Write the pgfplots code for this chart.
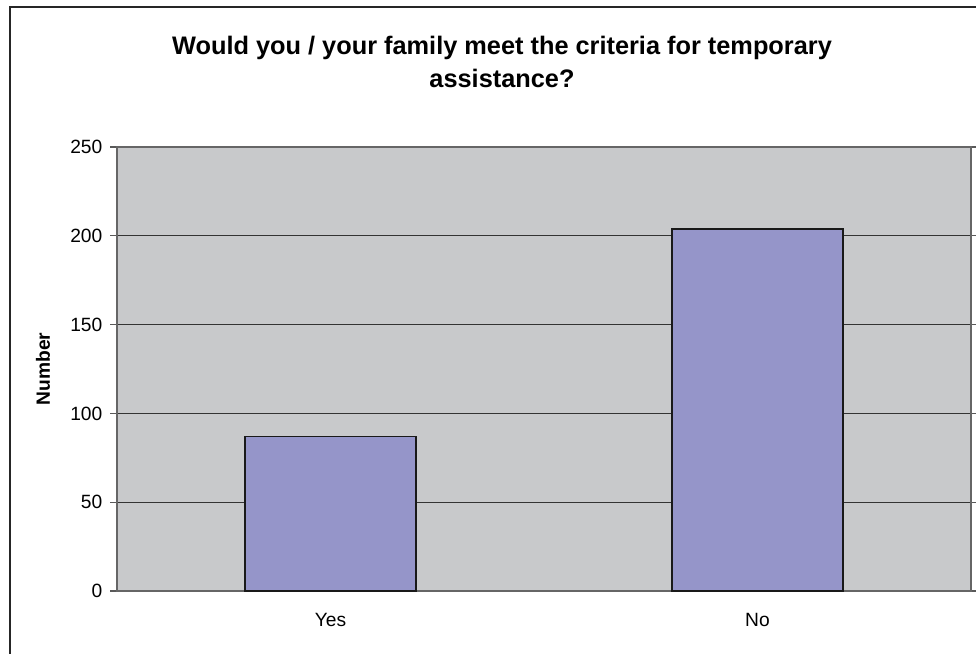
\documentclass[border=0pt]{standalone}
\usepackage{pgfplots}
\pgfplotsset{compat=1.18}
\usepackage{fontspec}
\setmainfont{Liberation Sans}
\definecolor{plotbg}{RGB}{200,201,203}
\definecolor{barc}{RGB}{149,149,201}
\begin{document}
\begin{tikzpicture}[x=0.75pt,y=0.75pt]
\path[use as bounding box] (0,0) rectangle (976,654);
\clip (0,0) rectangle (976,654);
\draw[line width=1.5pt,black!85] (10,647) rectangle (1010,-20);
\node[font=\fontsize{19}{24.75}\selectfont\bfseries,align=center] at (502,592.5) {Would you / your family meet the criteria for temporary\\assistance?};
\begin{axis}[
  at={(87.75pt,47.25pt)}, anchor=south west,
  scale only axis, width=640.5pt, height=333pt,
  xmin=-0.5, xmax=1.5, ymin=0, ymax=250,
  ytick={0,50,100,150,200,250},
  xtick={0,1}, xticklabels={Yes,No},
  major x tick style={draw=none},
  extra x ticks={-0.5,0.5,1.5}, extra x tick labels={},
  extra x tick style={major tick length=5.25pt, tick style={draw=gray!70!black, line width=0.9pt}, grid=none},
  tick align=outside,
  major tick length=5.25pt,
  ytick style={draw=gray!70!black, line width=0.9pt},
  ymajorgrids, grid style={black!80, line width=0.7pt},
  axis background/.style={fill=plotbg},
  axis line style={gray!80!black, line width=0.9pt},
  tick label style={font=\fontsize{14.4}{17}\selectfont},
  /pgf/number format/assume math mode=true,
  xticklabel style={yshift=-8.25pt},
  yticklabel style={xshift=-2.25pt},
  ylabel={Number},
  every axis y label/.style={at={(axis description cs:0,0.5)}, xshift=-55.5pt, rotate=90, anchor=center, font=\fontsize{14.4}{17}\selectfont\bfseries},
  clip=false,
]
\addplot[ybar, bar width=128.25pt, fill=barc, draw=black!90, line width=1.4pt] coordinates {(0,87) (1,204)};
\end{axis}
\end{tikzpicture}
\end{document}
